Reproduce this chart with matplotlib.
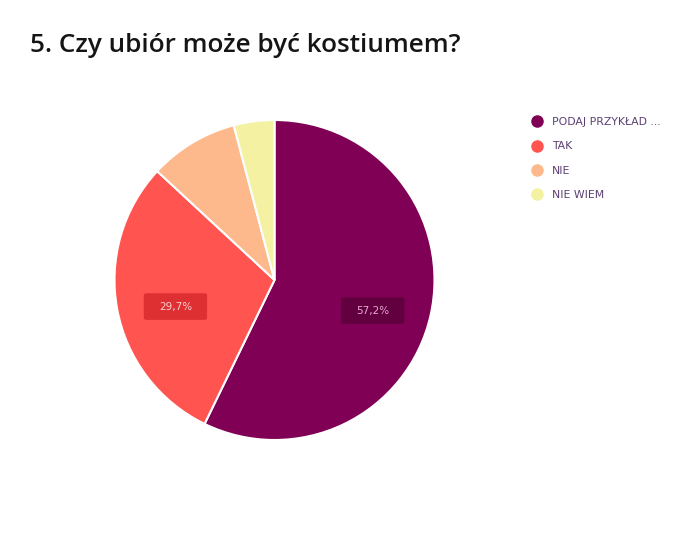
import matplotlib
matplotlib.use("Agg")
import matplotlib.pyplot as plt
from matplotlib.lines import Line2D
from matplotlib.transforms import offset_copy

# Survey answers
categories = ["PODAJ PRZYKŁAD ...", "TAK", "NIE", "NIE WIEM"]
values = [57.2, 29.7, 9.0, 4.1]
colors = ["#7F0054", "#FF5450", "#FDB98C", "#F4F1A2"]
label_boxes = ["#62003F", "#DE2F33", "#E59A6C", "#D9D482"]
label_text = ["#E6A8D0", "#FAD0CF", "#FFFFFF", "#FFFFFF"]
title = "5. Czy ubiór może być kostiumem?"

W, H = 682, 557
fig = plt.figure(figsize=(W / 100, H / 100), dpi=100)
fig.patch.set_facecolor("white")

cx, cy, r = 274.5, 280, 160
ax = fig.add_axes([(cx - r) / W, (H - cy - r) / H, 2 * r / W, 2 * r / H])


def fmt(p):
    return f"{p:.1f}".replace(".", ",") + "%" if p >= 15 else ""


wedges, texts, autotexts = ax.pie(
    values,
    colors=colors,
    startangle=90,
    counterclock=False,
    autopct=fmt,
    pctdistance=0.63,
    wedgeprops=dict(edgecolor="white", linewidth=1.5),
    textprops=dict(fontsize=7.5, family="DejaVu Sans"),
)
# value tags sit a little below the wedge's mid-line
shift = offset_copy(ax.transData, fig=fig, x=0, y=-8, units="dots")
for t, bc, tc in zip(autotexts, label_boxes, label_text):
    t.set_color(tc)
    t.set_transform(shift)
    if t.get_text():
        t.set_bbox(dict(boxstyle="round,pad=1.45,rounding_size=0.3",
                        mutation_aspect=0.55,
                        facecolor=bc, edgecolor="none"))
ax.set_xlim(-1, 1)
ax.set_ylim(-1, 1)
ax.set_aspect("auto")
ax.axis("off")

fig.text(30 / W, 1 - 45 / H, title, fontsize=18.8, fontweight="semibold",
         family="Open Sans", color="#151515", va="center", ha="left")

handles = [Line2D([], [], marker="o", linestyle="none", markersize=8,
                  markerfacecolor=c, markeredgecolor=c) for c in colors]
fig.legend(handles, categories, loc="upper left",
           bbox_to_anchor=(530 / W, 1 - 117 / H), frameon=False,
           fontsize=7.8, labelcolor="#5B3F72", labelspacing=1.32,
           handletextpad=0.85, handlelength=1.2, borderaxespad=0,
           borderpad=0)

fig.savefig("out.png", dpi=100)
